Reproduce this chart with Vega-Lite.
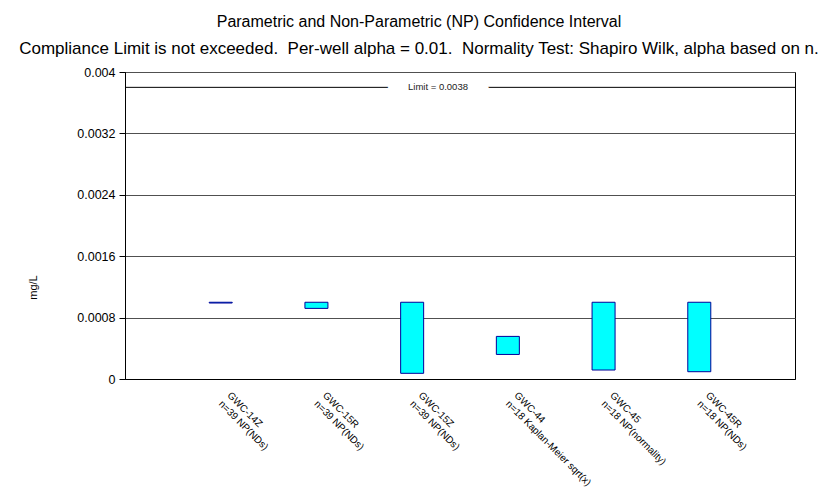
{
  "$schema": "https://vega.github.io/schema/vega-lite/v6.json",
  "autosize": {"type": "none"},
  "width": 670,
  "height": 307,
  "padding": {"left": 125, "top": 72, "right": 36, "bottom": 115},
  "background": "white",
  "config": {
    "font": "Liberation Sans",
    "view": {"stroke": "black", "strokeWidth": 1},
    "axis": {"labelFont": "Liberation Sans", "titleFont": "Liberation Sans", "labelColor": "black", "titleColor": "black", "domainColor": "black", "tickColor": "black"}
  },
  "title": {
    "text": "Parametric and Non-Parametric (NP) Confidence Interval",
    "subtitle": "Compliance Limit is not exceeded.\u00a0 Per-well alpha = 0.01.\u00a0 Normality Test: Shapiro Wilk, alpha based on n.",
    "anchor": "middle",
    "frame": "group",
    "dx": -41,
    "fontSize": 16,
    "fontWeight": "normal",
    "color": "black",
    "subtitleFontSize": 17,
    "subtitleColor": "black",
    "subtitleFont": "Liberation Sans",
    "subtitlePadding": 11,
    "offset": 9
  },
  "datasets": {
    "wells": [
      {"label": "GWC-14Z|n=39 NP(NDs)", "lower": 0.00099, "upper": 0.001},
      {"label": "GWC-15R|n=39 NP(NDs)", "lower": 0.00092, "upper": 0.001},
      {"label": "GWC-15Z|n=39 NP(NDs)", "lower": 0.000074, "upper": 0.001},
      {"label": "GWC-44|n=18 Kaplan-Meier sqrt(x)", "lower": 0.00032, "upper": 0.000555},
      {"label": "GWC-45|n=18 NP(normality)", "lower": 0.000117, "upper": 0.001},
      {"label": "GWC-45R|n=18 NP(NDs)", "lower": 0.000095, "upper": 0.001}
    ],
    "limit": [{"limit": 0.0038, "text": "Limit = 0.0038"}]
  },
  "layer": [
    {
      "data": {"name": "wells"},
      "mark": {"type": "bar", "fill": "#00FFFF", "stroke": "#000099", "strokeWidth": 1, "size": 23},
      "encoding": {
        "x": {
          "field": "label",
          "type": "nominal",
          "sort": null,
          "scale": {"type": "point", "padding": 1},
          "axis": {
            "title": null,
            "labelAngle": 45,
            "labelAlign": "left",
            "labelBaseline": "bottom",
            "labelFontSize": 10,
            "labelPadding": 18,
            "labelOffset": 4,
            "ticks": false,
            "domain": true,
            "grid": false,
            "labelExpr": "split(datum.label, '|')",
            "labelLimit": 300
          }
        },
        "y": {
          "field": "lower",
          "type": "quantitative",
          "scale": {"domain": [0, 0.004], "nice": false},
          "axis": {
            "title": "mg/L",
            "values": [0, 0.0008, 0.0016, 0.0024, 0.0032, 0.004],
            "format": "~g",
            "labelFontSize": 12.5,
            "titleFontSize": 11,
            "titleFontWeight": "normal",
            "titleY": 215,
            "titleX": -87,
            "tickSize": 6,
            "labelPadding": 4,
            "grid": true,
            "gridColor": "#505050",
            "gridOpacity": 1
          }
        },
        "y2": {"field": "upper"}
      }
    },
    {
      "data": {"name": "limit"},
      "mark": {"type": "rule", "color": "black", "strokeWidth": 1},
      "encoding": {"y": {"field": "limit", "type": "quantitative"}}
    },
    {
      "data": {"name": "limit"},
      "mark": {"type": "text", "fontSize": 15, "fill": "white", "stroke": "white", "strokeWidth": 8, "align": "center", "baseline": "middle", "dx": -22},
      "encoding": {"y": {"field": "limit", "type": "quantitative"}, "text": {"field": "text"}}
    },
    {
      "data": {"name": "limit"},
      "mark": {"type": "text", "fontSize": 9.5, "fill": "#222222", "align": "center", "baseline": "middle", "dx": -22},
      "encoding": {"y": {"field": "limit", "type": "quantitative"}, "text": {"field": "text"}}
    }
  ]
}
